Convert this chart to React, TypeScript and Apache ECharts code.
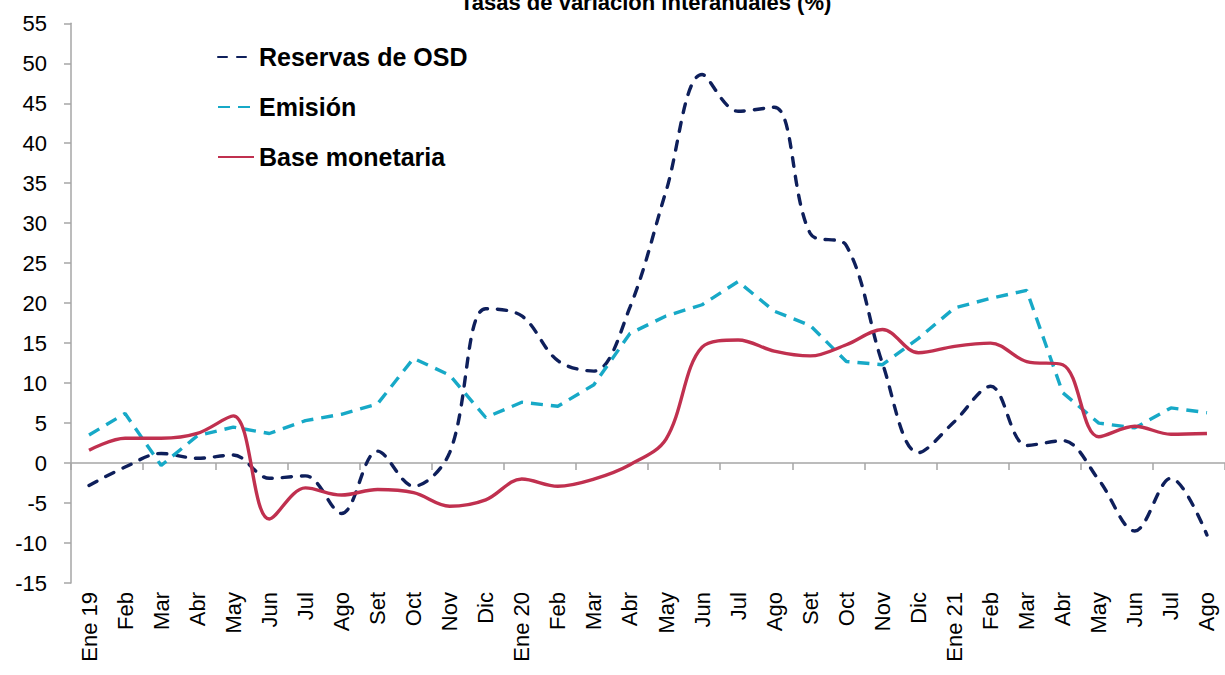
import React, { useEffect, useRef } from "react";
import * as echarts from "echarts";

const categories = [
  "Ene 19", "Feb", "Mar", "Abr", "May", "Jun", "Jul", "Ago", "Set", "Oct", "Nov", "Dic",
  "Ene 20", "Feb", "Mar", "Abr", "May", "Jun", "Jul", "Ago", "Set", "Oct", "Nov", "Dic",
  "Ene 21", "Feb", "Mar", "Abr", "May", "Jun", "Jul", "Ago",
];

const reservasOSD = [
  -2.8, -0.5, 1.2, 0.6, 1.0, -1.9, -1.6, -6.3, 1.5, -2.9, 1.3, 19.3,
  18.4, 12.8, 11.5, 19.5, 34.0, 48.6, 44.0, 44.5, 28.7, 27.2, 12.5, 1.3,
  5.2, 9.6, 2.2, 2.8, -2.1, -8.5, -1.9, -9.0,
];

const emision = [
  3.5, 6.2, -0.3, 3.4, 4.5, 3.7, 5.3, 6.1, 7.4, 13.1, 11.0, 5.7,
  7.6, 7.1, 9.8, 16.2, 18.4, 19.8, 22.7, 19.0, 17.2, 12.7, 12.3, 15.6,
  19.4, 20.6, 21.6, 8.8, 5.0, 4.4, 6.9, 6.3,
];

const baseMonetaria = [
  1.6, 3.1, 3.1, 3.7, 5.9, -7.0, -3.1, -4.0, -3.3, -3.7, -5.4, -4.6,
  -2.0, -2.9, -2.0, -0.2, 3.0, 14.5, 15.4, 14.0, 13.4, 14.8, 16.7, 13.8,
  14.6, 15.0, 12.7, 12.3, 3.3, 4.6, 3.6, 3.7,
];

const FONT = "'Liberation Sans', Arial, sans-serif";
const NAVY = "#0E1F5B";
const CYAN = "#17A9C7";
const RED = "#C0304F";
const GRAY = "#A6A6A6";

export default function App() {
  const ref = useRef<HTMLDivElement>(null);

  useEffect(() => {
    if (!ref.current) return;
    const chart = echarts.init(ref.current, null, { renderer: "svg" });
    chart.setOption({
      animation: false,
      backgroundColor: "#ffffff",
      title: {
        text: "Tasas de variación interanuales (%)",
        left: 455,
        top: -14,
        textStyle: { fontFamily: FONT, fontSize: 22, fontWeight: "bold", color: "#000" },
      },
      legend: {
        orient: "vertical",
        left: 217,
        top: 42,
        padding: 0,
        itemWidth: 36,
        itemHeight: 14,
        itemGap: 20,
        itemStyle: { opacity: 0 },
        textStyle: { fontFamily: FONT, fontSize: 25, fontWeight: "bold", color: "#000", lineHeight: 30 },
        data: ["Reservas de OSD", "Emisión", "Base monetaria"],
      },
      grid: { left: 71, right: -2, top: 23.3, bottom: 92 },
      xAxis: [
        {
          type: "category",
          data: categories,
          position: "bottom",
          axisLine: { show: false, onZero: false },
          axisTick: { show: false },
          axisLabel: {
            interval: 0,
            rotate: 90,
            margin: 9,
            fontFamily: FONT,
            fontSize: 22,
            color: "#000",
          },
        },
        {
          type: "category",
          data: categories,
          position: "bottom",
          axisLine: { show: true, onZero: true, lineStyle: { color: GRAY, width: 1.5 } },
          axisTick: { show: true, length: 7, lineStyle: { color: GRAY, width: 1.5 } },
          axisLabel: { show: false },
        },
      ],
      yAxis: {
        type: "value",
        min: -15,
        max: 55,
        interval: 5,
        axisLine: { show: true, lineStyle: { color: GRAY, width: 1.5 } },
        axisTick: { show: true, length: 7, lineStyle: { color: GRAY, width: 1.5 } },
        splitLine: { show: false },
        axisLabel: { margin: 24, fontFamily: FONT, fontSize: 22, color: "#000" },
      },
      series: [
        {
          name: "Reservas de OSD",
          type: "line",
          data: reservasOSD,
          smooth: 0.35,
          symbol: "none",
          lineStyle: { color: NAVY, width: 3.4, type: [9, 10], cap: "round" },
          itemStyle: { color: NAVY },
        },
        {
          name: "Emisión",
          type: "line",
          data: emision,
          smooth: false,
          symbol: "none",
          lineStyle: { color: CYAN, width: 3.4, type: [12, 8] },
          itemStyle: { color: CYAN },
        },
        {
          name: "Base monetaria",
          type: "line",
          data: baseMonetaria,
          smooth: 0.35,
          symbol: "none",
          lineStyle: { color: RED, width: 3.4 },
          itemStyle: { color: RED },
        },
      ],
    });
    return () => chart.dispose();
  }, []);

  return (
    <div
      ref={ref}
      style={{ position: "absolute", left: 0, top: 0, width: 1225, height: 675 }}
    />
  );
}
